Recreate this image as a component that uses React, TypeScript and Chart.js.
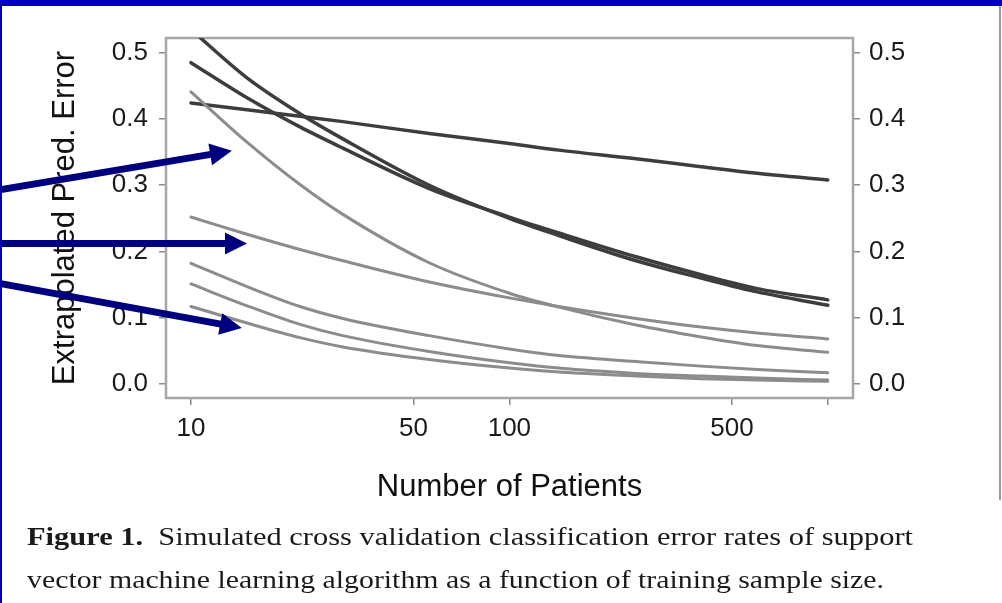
import React, { useEffect, useLayoutEffect, useRef } from 'react';
import { Chart, registerables } from 'chart.js';

Chart.register(...registerables);

// ---- data ----
const patients = [10, 15, 22, 30, 56, 100, 143, 250, 400, 600, 1000];
const darkCurveA = [0.535, 0.462, 0.408, 0.370, 0.300, 0.250, 0.224, 0.186, 0.160, 0.139, 0.119];
const darkCurveB = [0.485, 0.432, 0.388, 0.356, 0.295, 0.252, 0.228, 0.192, 0.165, 0.144, 0.127];
const darkCurveC = [0.424, 0.414, 0.404, 0.396, 0.378, 0.363, 0.353, 0.340, 0.328, 0.318, 0.308];
const grayCurveA = [0.441, 0.365, 0.301, 0.256, 0.183, 0.137, 0.116, 0.089, 0.071, 0.058, 0.048];
const grayCurveB = [0.252, 0.226, 0.203, 0.186, 0.154, 0.130, 0.117, 0.099, 0.086, 0.077, 0.068];
const grayCurveC = [0.182, 0.147, 0.117, 0.099, 0.073, 0.053, 0.043, 0.034, 0.027, 0.022, 0.017];
const grayCurveD = [0.151, 0.118, 0.090, 0.073, 0.049, 0.032, 0.024, 0.016, 0.012, 0.009, 0.006];
const grayCurveE = [0.117, 0.092, 0.070, 0.056, 0.037, 0.024, 0.018, 0.012, 0.008, 0.006, 0.004];

const xTickValues = [10, 50, 100, 500, 1000];
const xTickLabels = ['10', '50', '100', '500', ''];
const yTickValues = [0, 0.1, 0.2, 0.3, 0.4, 0.5];

// annotation arrows, in data coordinates (patients, error)
const arrowStarts = [[2.5, 0.293], [2.5, 0.212], [2.5, 0.152]];
const arrowTips = [[13.45, 0.352], [15.0, 0.212], [14.45, 0.0845]];

const xTitle = 'Number of Patients';
const yTitle = 'Extrapolated Pred. Error';
const captionBold = 'Figure 1.';
const captionLine1 = '  Simulated cross validation classification error rates of support';
const captionLine2 = 'vector machine learning algorithm as a function of training sample size.';

const DARK = '#3d3d3d';
const GRAY = '#8c8c8c';
const ARROW = '#00007e';
const FRAME_BLUE = '#0000b4';

const boxPlugin = {
  id: 'plotBox',
  beforeDatasetsDraw(chart: any) {
    const { ctx, chartArea } = chart;
    ctx.save();
    ctx.strokeStyle = '#a6a6a6';
    ctx.lineWidth = 2.5;
    ctx.strokeRect(chartArea.left, chartArea.top, chartArea.right - chartArea.left, chartArea.bottom - chartArea.top);
    ctx.restore();
  },
};

const arrowPlugin = {
  id: 'arrows',
  afterDraw(chart: any) {
    const { ctx } = chart;
    const xs = chart.scales.x;
    const ys = chart.scales.y;
    ctx.save();
    ctx.fillStyle = ARROW;
    ctx.strokeStyle = ARROW;
    ctx.lineWidth = 7;
    const headLen = 22;
    const headHalf = 11;
    arrowStarts.forEach((s, i) => {
      const t = arrowTips[i];
      const x0 = xs.getPixelForValue(s[0]);
      const y0 = ys.getPixelForValue(s[1]);
      const x1 = xs.getPixelForValue(t[0]);
      const y1 = ys.getPixelForValue(t[1]);
      const dx = x1 - x0;
      const dy = y1 - y0;
      const len = Math.hypot(dx, dy);
      const ux = dx / len;
      const uy = dy / len;
      const bx = x1 - ux * headLen;
      const by = y1 - uy * headLen;
      ctx.beginPath();
      ctx.moveTo(x0, y0);
      ctx.lineTo(bx + ux * 2, by + uy * 2);
      ctx.stroke();
      ctx.beginPath();
      ctx.moveTo(x1, y1);
      ctx.lineTo(bx - uy * headHalf, by + ux * headHalf);
      ctx.lineTo(bx + uy * headHalf, by - ux * headHalf);
      ctx.closePath();
      ctx.fill();
    });
    ctx.restore();
  },
};

export default function App() {
  const canvasRef = useRef<HTMLCanvasElement>(null);
  const line1Ref = useRef<HTMLDivElement>(null);
  const line2Ref = useRef<HTMLDivElement>(null);

  useLayoutEffect(() => {
    const fit = (el: HTMLDivElement | null, target: number) => {
      if (!el) return;
      el.style.transform = 'none';
      const w = el.getBoundingClientRect().width;
      if (w > 0) el.style.transform = `scaleX(${target / w})`;
    };
    fit(line1Ref.current, 886);
    fit(line2Ref.current, 857);
  }, []);

  useEffect(() => {
    const canvas = canvasRef.current;
    if (!canvas) return;
    Chart.defaults.font.family = "'Liberation Sans', Arial, Helvetica, sans-serif";

    const mk = (vals: number[], color: string, width: number) => ({
      data: patients.map((p, i) => ({ x: p, y: vals[i] })),
      borderColor: color,
      backgroundColor: color,
      borderWidth: width,
      pointRadius: 0,
      fill: false,
      cubicInterpolationMode: 'monotone' as const,
      borderCapStyle: 'round' as const,
      borderJoinStyle: 'round' as const,
    });

    const gridCfg = {
      display: true,
      drawOnChartArea: false,
      drawTicks: true,
      tickLength: 7,
      color: '#8a8a8a',
      lineWidth: 1.5,
    };
    const tickFont = { size: 26 };

    const yScale = (position: 'left' | 'right', width: number, pad: number, withTitle: boolean) => ({
      type: 'linear' as const,
      position,
      min: -0.0211,
      max: 0.5222,
      afterBuildTicks: (s: any) => {
        s.ticks = yTickValues.map((v) => ({ value: v }));
      },
      afterFit: (s: any) => {
        s.width = width;
      },
      ticks: {
        callback: (v: any) => Number(v).toFixed(1),
        font: tickFont,
        color: '#1a1a1a',
        padding: pad,
      },
      grid: gridCfg,
      border: { display: false },
      title: {
        display: withTitle,
        text: yTitle,
        color: '#111',
        font: { size: 31 },
        padding: { top: 47, bottom: 0 },
      },
    });

    const chart = new Chart(canvas, {
      type: 'line',
      data: {
        datasets: [
          mk(grayCurveE, GRAY, 3),
          mk(grayCurveD, GRAY, 3),
          mk(grayCurveC, GRAY, 3),
          mk(grayCurveB, GRAY, 3),
          mk(grayCurveA, GRAY, 3),
          mk(darkCurveC, DARK, 3.5),
          mk(darkCurveB, DARK, 3.5),
          mk(darkCurveA, DARK, 3.5),
        ],
      },
      options: {
        animation: false,
        responsive: true,
        maintainAspectRatio: false,
        events: [],
        layout: { padding: { top: 38, left: 0, right: 0, bottom: 0 } },
        plugins: {
          legend: { display: false },
          tooltip: { enabled: false },
          title: { display: false },
        },
        scales: {
          x: {
            type: 'logarithmic',
            position: 'bottom',
            min: 8.35,
            max: 1200,
            afterBuildTicks: (s: any) => {
              s.ticks = xTickValues.map((v) => ({ value: v }));
            },
            afterFit: (s: any) => {
              s.height = 205;
            },
            ticks: {
              callback: (_v: any, i: number) => xTickLabels[i],
              font: tickFont,
              color: '#1a1a1a',
              padding: 8,
              maxRotation: 0,
              autoSkip: false,
            },
            grid: gridCfg,
            border: { display: false },
            title: {
              display: true,
              text: xTitle,
              color: '#111',
              font: { size: 31 },
              padding: { top: 0, bottom: 97 },
            },
          },
          y: yScale('left', 166, 11, true),
          y2: yScale('right', 149, 9, false),
        },
      } as any,
      plugins: [boxPlugin, arrowPlugin],
    });
    return () => chart.destroy();
  }, []);

  const captionStyle: React.CSSProperties = {
    position: 'absolute',
    left: 27,
    whiteSpace: 'pre',
    fontFamily: "'Liberation Serif', 'Times New Roman', serif",
    fontSize: 25,
    lineHeight: '25px',
    color: '#1a1a1a',
    transformOrigin: '0 0',
  };

  return (
    <div
      style={{
        position: 'absolute',
        left: 0,
        top: 0,
        width: 1002,
        height: 603,
        background: '#fff',
        overflow: 'hidden',
      }}
    >
      <div style={{ position: 'absolute', left: 0, top: 0, width: 1002, height: 603 }}>
        <canvas ref={canvasRef} />
      </div>
      <div style={{ position: 'absolute', left: 0, top: 0, width: 1002, height: 6, background: FRAME_BLUE }} />
      <div style={{ position: 'absolute', left: 0, top: 0, width: 2, height: 603, background: FRAME_BLUE }} />
      <div style={{ position: 'absolute', left: 999, top: 6, width: 2, height: 494, background: '#9a9a9a' }} />
      <div ref={line1Ref} style={{ ...captionStyle, top: 524 }}>
        <b>{captionBold}</b>
        {captionLine1}
      </div>
      <div ref={line2Ref} style={{ ...captionStyle, top: 567 }}>
        {captionLine2}
      </div>
    </div>
  );
}
